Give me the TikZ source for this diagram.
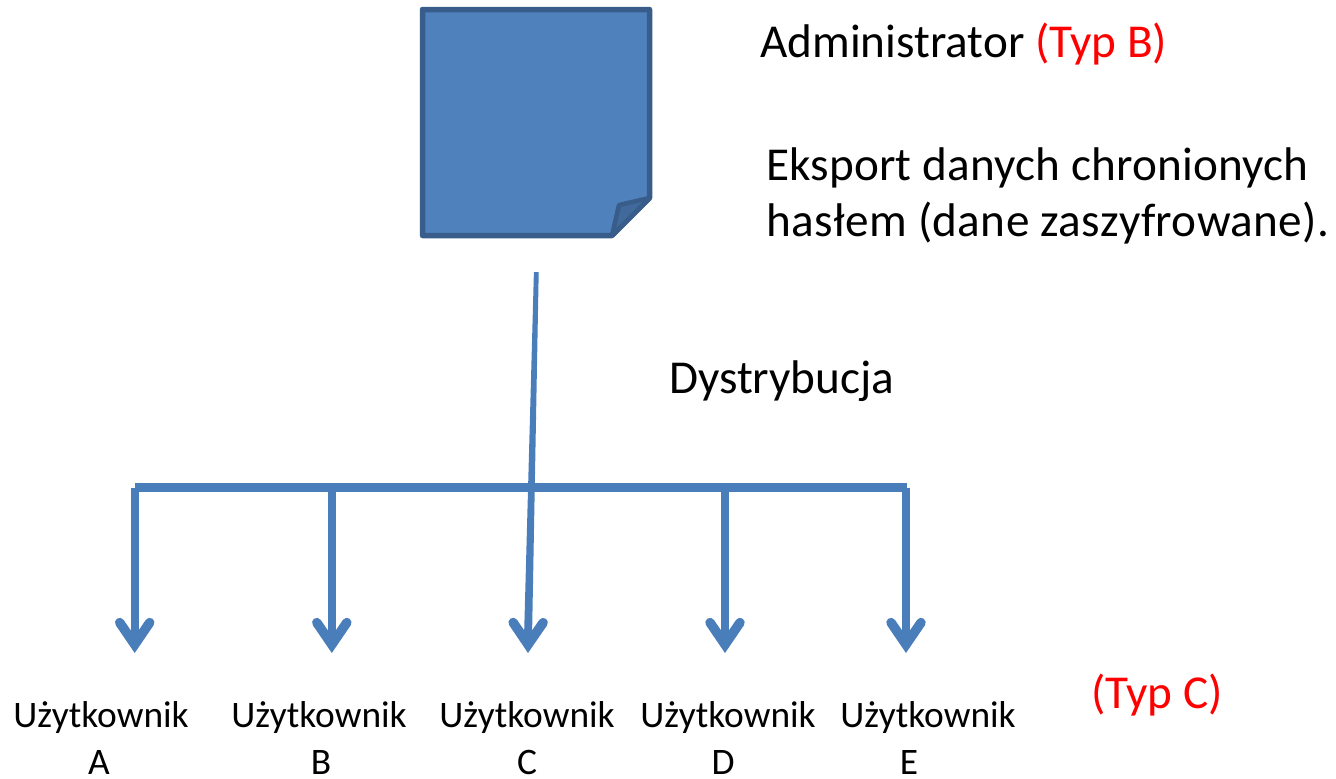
\documentclass[tikz,border=0pt]{standalone}
\usepackage{fontspec}
\setmainfont{Carlito}
\usetikzlibrary{arrows.meta,calc}
\definecolor{fillblue}{HTML}{4F81BD}
\definecolor{edgeblue}{HTML}{385D8A}
\definecolor{foldblue}{HTML}{41699B}
\definecolor{lineblue}{HTML}{4A7EBB}
\tikzset{
  x=1pt,y=-1pt,
  big/.style={anchor=base west,inner sep=0pt,font=\fontsize{47.2}{47.2}\selectfont,text=black},
  redtxt/.style={text=red},
  user/.style={anchor=base,inner sep=0pt,font=\fontsize{37.4}{37.4}\selectfont,text=black},
  bar/.style={draw=lineblue,line width=8.4pt},
  drop/.style={draw=lineblue,line width=8.2pt,-{Straight Barb[length=22pt,width=30pt,line width=9.5pt,line cap=round,line join=miter]}},
}
\begin{document}
\begin{tikzpicture}
\useasboundingbox (0,0) rectangle (1336,779);
% page
\draw[draw=edgeblue,fill=fillblue,line width=5.5pt,line join=round]
  (422.5,9.5) -- (649.5,9.5) -- (649.5,198) -- (612,235.5) -- (422.5,235.5) -- cycle;
\draw[draw=edgeblue,fill=foldblue,line width=4.5pt,line join=round]
  (612,235.5) -- (619,205) -- (649.5,198) -- cycle;
% texts
\node[big] (adm) at (760,57) {Administrator \textcolor{red}{(Typ B)}};
\node[big] (exp1) at (766,180) {\addfontfeature{LetterSpace=0.4}Eksport danych chronionych};
\node[big] (exp2) at (766,236) {\addfontfeature{LetterSpace=0.85}hasłem (dane zaszyfrowane).};
\node[big] (dys) at (669,393) {Dystrybucja};
\node[big,redtxt] (typc) at (1091,708) {(Typ C)};
\node[user] (ua) at (101,727) {Użytkownik};
\node[user] (ub) at (319,727) {Użytkownik};
\node[user] (uc) at (527,727) {Użytkownik};
\node[user] (ud) at (728,727) {Użytkownik};
\node[user] (ue) at (928,727) {Użytkownik};
\node[user] (la) at (99,774) {A};
\node[user] (lb) at (321,774) {B};
\node[user] (lc) at (527,774) {C};
\node[user] (ld) at (723,774) {D};
\node[user] (le) at (909,774) {E};
% connectors
\coordinate (top) at (536.3,272);
\coordinate (hl) at (135,487.5);
\coordinate (hr) at (907,487.5);
\coordinate (ja) at (134.7,487.5);
\coordinate (jb) at (331.8,487.5);
\coordinate (jd) at (725,487.5);
\coordinate (je) at (906,487.5);
\coordinate (ta) at (134.7,653);
\coordinate (tb) at (331.8,653);
\coordinate (tc) at (528,653);
\coordinate (td) at (725,653);
\coordinate (te) at (906,653);
\draw[bar] (hl) -- (hr);
\draw[drop] (ja) -- (ta);
\draw[drop] (jb) -- (tb);
\fill[lineblue] ($(top)+(-2.4,0)$) -- ($(top)+(2.4,0)$) -- ($(tc)+(4,-15)$) -- ($(tc)+(-4,-15)$) -- cycle;
\draw[drop] ($(tc)+(0.1,-20)$) -- (tc);
\draw[drop] (jd) -- (td);
\draw[drop] (je) -- (te);
\end{tikzpicture}
\end{document}
